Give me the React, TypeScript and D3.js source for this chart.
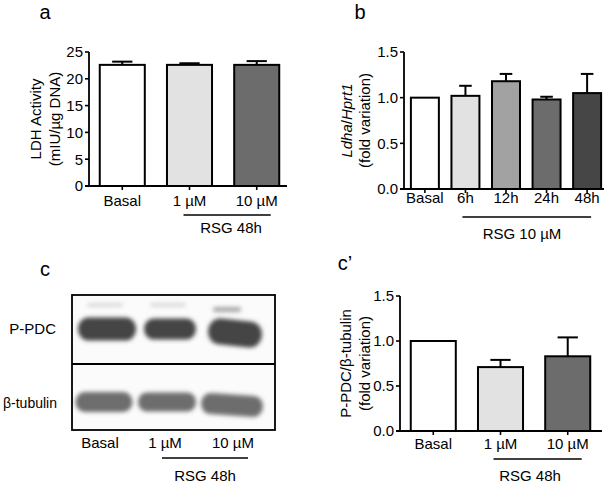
import React from "react";
import * as d3 from "d3";

// ---------- Data ----------
const ldhCategories = ["Basal", "1 µM", "10 µM"];
const ldhValues = [22.6, 22.6, 22.6];
const ldhErrors = [0.6, 0.3, 0.7];
const ldhTicks = [0, 5, 10, 15, 20, 25];

const ldhaCategories = ["Basal", "6h", "12h", "24h", "48h"];
const ldhaValues = [1.0, 1.02, 1.18, 0.98, 1.05];
const ldhaErrors = [0, 0.11, 0.08, 0.03, 0.21];
const foldTicks = [0, 0.5, 1.0, 1.5];

const ppdcCategories = ["Basal", "1 µM", "10 µM"];
const ppdcValues = [1.0, 0.71, 0.83];
const ppdcErrors = [0, 0.08, 0.21];

const blotLanes = ["Basal", "1 µM", "10 µM"];
const blotRows = ["P-PDC", "β-tubulin"];
// relative band sizes (width, thickness) per lane read from the blot
const ppdcBandW = [58, 52, 54];
const ppdcBandH = [23, 21, 26];
const tubBandW = [57, 58, 62];
const tubBandH = [20, 19, 21];

const fills3 = ["#ffffff", "#e2e2e2", "#6c6c6c"];
const fills5 = ["#ffffff", "#e2e2e2", "#a2a2a2", "#6c6c6c", "#464646"];

const FONT = "'Liberation Sans', Arial, Helvetica, sans-serif";
const FS = 15;

type BarPanelProps = {
  cats: string[];
  vals: number[];
  errs: number[];
  fills: string[];
  ticks: number[];
  tickFmt: (v: number) => string;
  domainMax: number;
  x0: number;
  x1: number;
  y0: number;
  y1: number;
  paddingInner: number;
  paddingOuter: number;
  axisEnd: number;
  labelBaseline: number;
  yLabel: React.ReactNode;
  yLabel2: string;
  yLabelX1: number;
  yLabelX2: number;
  groupFrom: number;
  groupTo: number;
  groupOffA: number;
  groupOffB: number;
  groupY: number;
  groupText: string;
  groupTextX: number;
  groupTextY: number;
};

function BarPanel(p: BarPanelProps) {
  const x = d3
    .scaleBand<string>()
    .domain(p.cats)
    .range([p.x0, p.x1])
    .paddingInner(p.paddingInner)
    .paddingOuter(p.paddingOuter);
  const y = d3.scaleLinear().domain([0, p.domainMax]).range([p.y0, p.y1]);
  const bw = x.bandwidth();
  const cap = bw * 0.45;
  const yMid = (p.y0 + p.y1) / 2;
  return (
    <g>
      {p.cats.map((c, i) => {
        const bx = x(c)!;
        const top = y(p.vals[i]);
        return (
          <g key={c}>
            {p.errs[i] > 0 && (
              <g stroke="#000" strokeWidth={2}>
                <line x1={bx + bw / 2} x2={bx + bw / 2} y1={top} y2={y(p.vals[i] + p.errs[i])} />
                <line
                  x1={bx + bw / 2 - cap / 2}
                  x2={bx + bw / 2 + cap / 2}
                  y1={y(p.vals[i] + p.errs[i])}
                  y2={y(p.vals[i] + p.errs[i])}
                />
              </g>
            )}
            <rect
              x={bx}
              y={top}
              width={bw}
              height={p.y0 - top}
              fill={p.fills[i]}
              stroke="#000"
              strokeWidth={2}
            />
          </g>
        );
      })}
      <line x1={p.x0} x2={p.x0} y1={p.y0} y2={p.y1} stroke="#000" strokeWidth={1.8} />
      {p.ticks.map((t) => (
        <g key={t}>
          <line x1={p.x0 - 4} x2={p.x0} y1={y(t)} y2={y(t)} stroke="#000" strokeWidth={1.6} />
          <text x={p.x0 - 6} y={y(t)} dy="0.36em" textAnchor="end" fontSize={FS} fontFamily={FONT}>
            {p.tickFmt(t)}
          </text>
        </g>
      ))}
      <line x1={p.x0 - 4} x2={p.axisEnd} y1={p.y0} y2={p.y0} stroke="#000" strokeWidth={1.8} />
      {p.cats.map((c) => (
        <g key={"t" + c}>
          <line
            x1={x(c)! + bw / 2}
            x2={x(c)! + bw / 2}
            y1={p.y0}
            y2={p.y0 + 4}
            stroke="#000"
            strokeWidth={1.6}
          />
          <text x={x(c)! + bw / 2} y={p.labelBaseline} textAnchor="middle" fontSize={FS} fontFamily={FONT}>
            {c}
          </text>
        </g>
      ))}
      <text
        transform={`translate(${p.yLabelX1},${yMid}) rotate(-90)`}
        textAnchor="middle"
        fontSize={FS}
        fontFamily={FONT}
      >
        {p.yLabel}
      </text>
      <text
        transform={`translate(${p.yLabelX2},${yMid}) rotate(-90)`}
        textAnchor="middle"
        fontSize={FS}
        fontFamily={FONT}
      >
        {p.yLabel2}
      </text>
      <line
        x1={x(p.cats[p.groupFrom])! + bw / 2 + p.groupOffA}
        x2={x(p.cats[p.groupTo])! + bw / 2 + p.groupOffB}
        y1={p.groupY}
        y2={p.groupY}
        stroke="#000"
        strokeWidth={1.5}
      />
      <text x={p.groupTextX} y={p.groupTextY} textAnchor="middle" fontSize={FS} fontFamily={FONT}>
        {p.groupText}
      </text>
    </g>
  );
}

function Blot() {
  const bx0 = 72,
    bx1 = 275,
    by0 = 295,
    by1 = 430,
    mid = 364;
  const laneCenters = [107, 170, 235];
  const pill = (cx: number, cy: number, w: number, h: number, fill: string, rot: number, key: string) => (
    <rect
      key={key}
      x={cx - w / 2}
      y={cy - h / 2}
      width={w}
      height={h}
      rx={h / 2.2}
      ry={h / 2}
      fill={fill}
      filter="url(#blur)"
      transform={`rotate(${rot},${cx},${cy})`}
    />
  );
  return (
    <g>
      <defs>
        <filter id="blur" x="-20%" y="-50%" width="140%" height="200%">
          <feGaussianBlur stdDeviation={2.1} />
        </filter>
        <filter id="blur2" x="-20%" y="-100%" width="140%" height="300%">
          <feGaussianBlur stdDeviation={2.2} />
        </filter>
      </defs>
      <rect x={bx0} y={by0} width={bx1 - bx0} height={by1 - by0} fill="#fbfbfb" />
      {blotLanes.map((l, i) => (
        <rect
          key={"f" + l}
          x={laneCenters[i] - 20 + (i === 2 ? -2 : 0)}
          y={i === 2 ? 307 : 303}
          width={i === 2 ? 28 : 36}
          height={i === 2 ? 5 : 4}
          rx={2}
          fill={i === 2 ? "#a8a8a8" : "#dadada"}
          filter="url(#blur2)"
        />
      ))}
      {blotLanes.map((l, i) =>
        pill(laneCenters[i], i === 2 ? 333 : 329, ppdcBandW[i], ppdcBandH[i], "#454545", i === 2 ? 6 : 0, "p" + l)
      )}
      {blotLanes.map((l, i) =>
        pill(laneCenters[i] - 3, i === 2 ? 405 : 402, tubBandW[i], tubBandH[i], "#6d6d6d", i === 2 ? 4 : 0, "t" + l)
      )}
      <rect x={bx0} y={by0} width={bx1 - bx0} height={by1 - by0} fill="none" stroke="#000" strokeWidth={1.8} />
      <line x1={bx0} x2={bx1} y1={mid} y2={mid} stroke="#000" strokeWidth={1.8} />
      <text x={56} y={334} textAnchor="end" fontSize={FS} fontFamily={FONT}>
        {blotRows[0]}
      </text>
      <text x={57} y={408} textAnchor="end" fontSize={14} fontFamily={FONT}>
        {blotRows[1]}
      </text>
      {blotLanes.map((l, i) => (
        <text key={"l" + l} x={[100, 165, 233][i]} y={448} textAnchor="middle" fontSize={FS} fontFamily={FONT}>
          {l}
        </text>
      ))}
      <line x1={162} x2={248} y1={458} y2={458} stroke="#000" strokeWidth={1.5} />
      <text x={205} y={481} textAnchor="middle" fontSize={FS} fontFamily={FONT}>
        RSG 48h
      </text>
    </g>
  );
}

export default function App() {
  const fmt0 = d3.format("d");
  const fmt1 = d3.format(".1f");
  return (
    <svg
      width={609}
      height={483}
      style={{ position: "absolute", left: 0, top: 0, background: "#fff" }}
      fontFamily={FONT}
    >
      <rect width={609} height={483} fill="#fff" />
      <text x={45} y={19} textAnchor="middle" fontSize={20} fontFamily={FONT}>a</text>
      <text x={360} y={19} textAnchor="middle" fontSize={20} fontFamily={FONT}>b</text>
      <text x={45} y={276} textAnchor="middle" fontSize={20} fontFamily={FONT}>c</text>
      <text x={345} y={270} textAnchor="middle" fontSize={20} fontFamily={FONT}>c’</text>

      <BarPanel
        cats={ldhCategories}
        vals={ldhValues}
        errs={ldhErrors}
        fills={fills3}
        ticks={ldhTicks}
        tickFmt={fmt0}
        domainMax={25}
        x0={89}
        x1={290}
        y0={186}
        y1={52}
        paddingInner={0.33}
        paddingOuter={0.16}
        axisEnd={287}
        labelBaseline={206}
        yLabel="LDH Activity"
        yLabel2="(mIU/µg DNA)"
        yLabelX1={41}
        yLabelX2={60}
        groupFrom={1}
        groupTo={2}
        groupOffA={-6}
        groupOffB={14}
        groupY={215}
        groupText="RSG 48h"
        groupTextX={231}
        groupTextY={233}
      />

      <BarPanel
        cats={ldhaCategories}
        vals={ldhaValues}
        errs={ldhaErrors}
        fills={fills5}
        ticks={foldTicks}
        tickFmt={fmt1}
        domainMax={1.5}
        x0={404}
        x1={608}
        y0={189}
        y1={52}
        paddingInner={0.31}
        paddingOuter={0.17}
        axisEnd={604}
        labelBaseline={203}
        yLabel={
          <>
            <tspan fontStyle="italic">Ldha</tspan>/<tspan fontStyle="italic">Hprt1</tspan>
          </>
        }
        yLabel2="(fold variation)"
        yLabelX1={352}
        yLabelX2={370}
        groupFrom={1}
        groupTo={4}
        groupOffA={-3}
        groupOffB={4}
        groupY={217}
        groupText="RSG 10 µM"
        groupTextX={522}
        groupTextY={239}
      />

      <Blot />

      <BarPanel
        cats={ppdcCategories}
        vals={ppdcValues}
        errs={ppdcErrors}
        fills={fills3}
        ticks={foldTicks}
        tickFmt={fmt1}
        domainMax={1.5}
        x0={400}
        x1={601}
        y0={431}
        y1={296}
        paddingInner={0.33}
        paddingOuter={0.16}
        axisEnd={602}
        labelBaseline={449}
        yLabel="P-PDC/β-tubulin"
        yLabel2="(fold variation)"
        yLabelX1={351}
        yLabelX2={370}
        groupFrom={1}
        groupTo={2}
        groupOffA={-7}
        groupOffB={14}
        groupY={459}
        groupText="RSG 48h"
        groupTextX={530}
        groupTextY={481}
      />
    </svg>
  );
}
